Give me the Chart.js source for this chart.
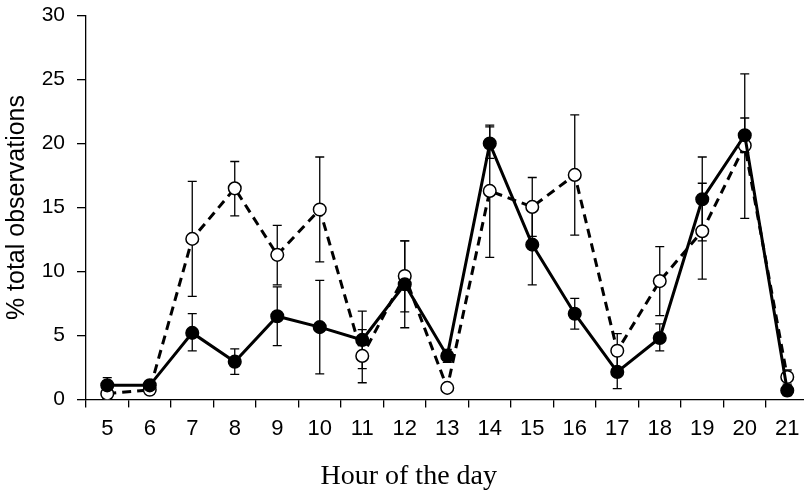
<!DOCTYPE html>
<html>
<head>
<meta charset="utf-8">
<script src="https://cdn.jsdelivr.net/npm/chart.js@4.4.1/dist/chart.umd.min.js"></script>
<style>
  html, body { margin: 0; padding: 0; background: #fff; overflow: hidden; }
  #wrap { position: relative; width: 830px; height: 493px; }
</style>
</head>
<body>
<div id="wrap"><canvas id="chart" width="830" height="493"></canvas></div>
<script>
// Stunde des Tages
const hours = ['5','6','7','8','9','10','11','12','13','14','15','16','17','18','19','20','21'];

// gefüllte Kreise, durchgezogene Linie
const solidMean  = [1.1, 1.1, 5.2, 2.95, 6.5, 5.65, 4.65, 9.0, 3.4, 20.0, 12.1, 6.7, 2.15, 4.8, 15.65, 20.65, 0.7];
const solidLow   = [0.5, 0.8, 3.8, 1.95, 4.2, 2.0, 1.3, 5.6, 2.9, 18.85, 8.95, 5.5, 0.85, 3.8, 12.4, 19.3, 0.3];
const solidHigh  = [1.7, 1.4, 6.7, 3.95, 8.8, 9.3, 6.9, 12.4, 3.9, 21.3, 15.3, 7.9, 3.5, 5.9, 18.95, 22.0, 1.1];

// offene Kreise, gestrichelte Linie
const dashedMean = [0.45, 0.75, 12.55, 16.5, 11.3, 14.85, 3.4, 9.65, 0.9, 16.3, 15.05, 17.55, 3.8, 9.25, 13.15, 19.85, 1.75];
const dashedLow  = [0.2, 0.5, 8.05, 14.35, 8.95, 10.75, 2.4, 6.85, 0.6, 11.1, 12.75, 12.85, 2.5, 6.55, 9.4, 14.15, 1.2];
const dashedHigh = [0.7, 1.0, 17.05, 18.6, 13.6, 18.95, 5.45, 12.4, 1.2, 21.45, 17.35, 22.25, 5.15, 11.95, 16.9, 25.45, 2.3];

const yTicks = [0, 5, 10, 15, 20, 25, 30];

// Fehlerbalken unter die Punkte zeichnen
const errorBars = {
    id: 'errorBars',
    beforeDatasetsDraw(chart) {
        const ctx = chart.ctx;
        const xs = chart.scales.x;
        const ys = chart.scales.y;
        ctx.save();
        ctx.strokeStyle = '#000';
        ctx.lineWidth = 1.3;
        chart.data.datasets.forEach(ds => {
            ds.errLow.forEach((lo, i) => {
                const hi = ds.errHigh[i];
                const x = xs.getPixelForValue(i);
                const y1 = ys.getPixelForValue(lo);
                const y2 = ys.getPixelForValue(hi);
                ctx.beginPath();
                ctx.moveTo(x, y1); ctx.lineTo(x, y2);
                ctx.moveTo(x - 4.5, y1); ctx.lineTo(x + 4.5, y1);
                ctx.moveTo(x - 4.5, y2); ctx.lineTo(x + 4.5, y2);
                ctx.stroke();
            });
        });
        ctx.restore();
    }
};

new Chart(document.getElementById('chart'), {
    type: 'line',
    data: {
        labels: hours,
        datasets: [
            {
                data: solidMean,
                errLow: solidLow,
                errHigh: solidHigh,
                borderColor: '#000',
                borderWidth: 3,
                pointRadius: 6.3,
                pointBackgroundColor: '#000',
                pointBorderColor: '#000',
                pointBorderWidth: 1.5,
                tension: 0
            },
            {
                data: dashedMean,
                errLow: dashedLow,
                errHigh: dashedHigh,
                borderColor: '#000',
                borderWidth: 3,
                borderDash: [9, 6],
                pointRadius: 6.3,
                pointBackgroundColor: '#fff',
                pointBorderColor: '#000',
                pointBorderWidth: 1.5,
                tension: 0
            }
        ]
    },
    options: {
        responsive: false,
        animation: false,
        devicePixelRatio: 1,
        layout: { padding: { top: 9, right: 21.5, left: 9, bottom: 0 } },
        plugins: {
            legend: { display: false },
            tooltip: { enabled: false },
            title: {
                display: true,
                position: 'bottom',
                text: 'Hour of the day',
                color: '#000',
                padding: 0,
                font: { family: 'Liberation Serif, DejaVu Serif, serif', size: 28, weight: 'normal', lineHeight: 1.2 }
            }
        },
        scales: {
            x: {
                type: 'category',
                offset: true,
                grid: { offset: true, drawOnChartArea: false, drawTicks: true, tickLength: 8, color: '#000', lineWidth: 1.3 },
                border: { display: true, color: '#000', width: 1.3 },
                ticks: {
                    color: '#000',
                    padding: 8,
                    maxRotation: 0,
                    autoSkip: false,
                    font: { family: 'Liberation Sans, Arial, sans-serif', size: 22 }
                },
                afterFit(scale) { scale.height = 60; }
            },
            y: {
                min: 0,
                max: 30,
                afterBuildTicks(scale) { scale.ticks = yTicks.map(v => ({ value: v })); },
                grid: { drawOnChartArea: false, drawTicks: true, tickLength: 9, color: '#000', lineWidth: 1.3 },
                border: { display: true, color: '#000', width: 1.3 },
                ticks: {
                    color: '#000',
                    padding: 12,
                    // kleine lineHeight nur, damit oben kein Extra-Rand entsteht
                    font: { family: 'Liberation Sans, Arial, sans-serif', size: 21, lineHeight: 0.35 }
                },
                title: {
                    display: true,
                    text: '% total observations',
                    color: '#000',
                    padding: 0,
                    font: { family: 'Liberation Sans, Arial, sans-serif', size: 25, lineHeight: 0.64 }
                },
                afterFit(scale) { scale.width = 77; }
            }
        }
    },
    plugins: [errorBars]
});
</script>
</body>
</html>
